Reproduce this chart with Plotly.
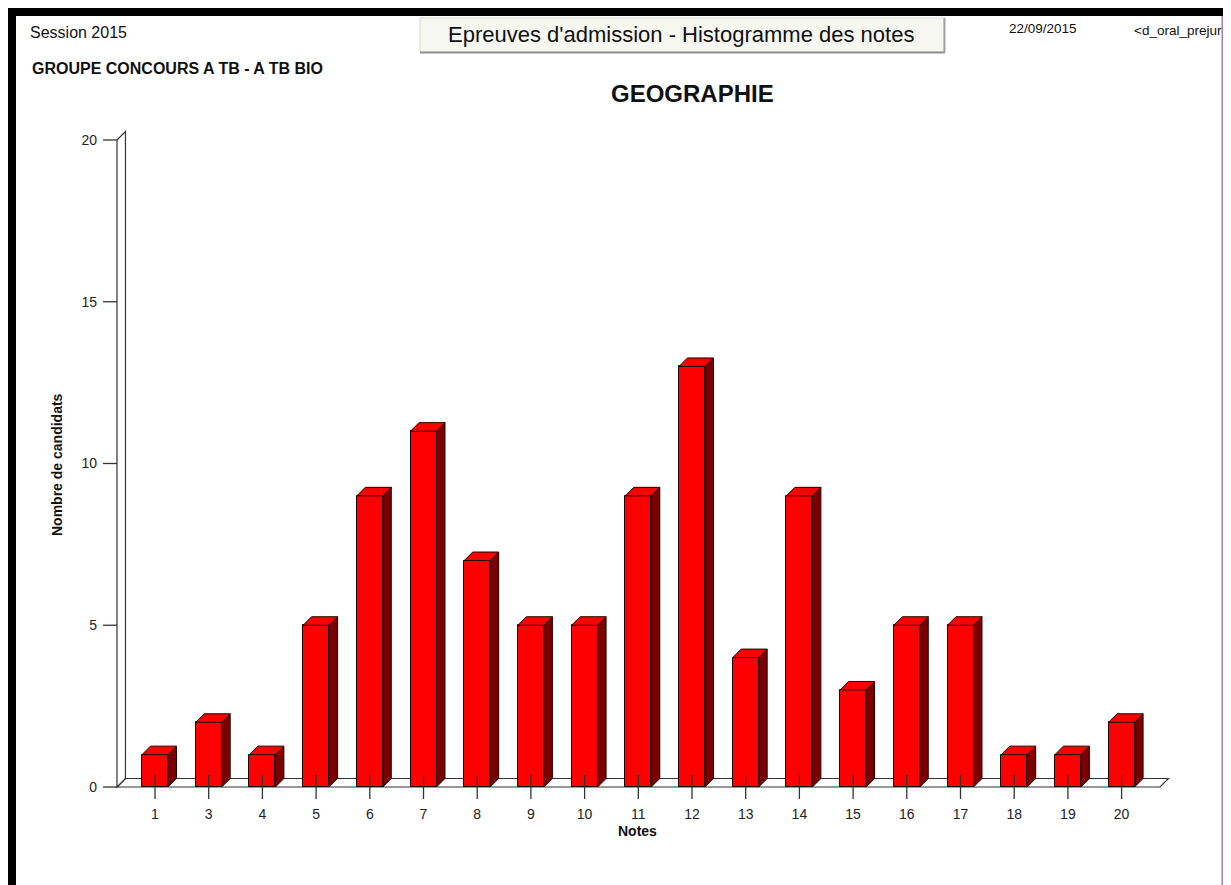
import plotly.graph_objects as go

# ---------------- data ----------------
notes = ["1", "3", "4", "5", "6", "7", "8", "9", "10", "11", "12",
         "13", "14", "15", "16", "17", "18", "19", "20"]
counts = [1, 2, 1, 5, 9, 11, 7, 5, 5, 9, 13, 4, 9, 3, 5, 5, 1, 1, 2]
y_ticks = [0, 5, 10, 15, 20]

title_main = "GEOGRAPHIE"
header_box = "Epreuves d'admission - Histogramme des notes"
session_txt = "Session 2015"
group_txt = "GROUPE CONCOURS A TB - A TB BIO"
date_txt = "22/09/2015"
ref_txt = "<d_oral_prejur"
x_title = "Notes"
y_title = "Nombre de candidats"

# ---------------- geometry / style ----------------
OFF = 8                      # page body margin of the html page
W, H = 1231, 885
# plot area in screen pixels
PL, PR, PT, PB = 100, 1175, 128, 800
L, R = PL - OFF, (W + OFF) - PR
T, B = PT - OFF, (H + OFF) - PB
XR = [(PL - 155) / 53.7, (PR - 155) / 53.7]
YR = [(787 - PB) / 32.35, (787 - PT) / 32.35]
BAR_W = 0.484
DX, DY = 0.158, 0.263          # 3D depth offsets
WALL_X = -0.708
FLOOR_END = 18.715
YTICK_LEN = 0.26
XTICK_HALF = 0.371
FONT = "Liberation Sans, Arial, sans-serif"


def px(x):
    return (x - PL) / (PR - PL)


def py(y):
    return 1 - (y - PT) / (PB - PT)


idx = list(range(len(notes)))

fig = go.Figure()

# front faces
fig.add_trace(go.Bar(
    x=idx, y=counts, width=BAR_W,
    marker=dict(color="#FF0000", line=dict(color="#200000", width=1)),
    hoverinfo="skip", showlegend=False,
))

# side faces and top faces
sx, sy, tx, ty = [], [], [], []
for i, v in zip(idx, counts):
    xl, xr = i - BAR_W / 2, i + BAR_W / 2
    sx += [xr, xr, xr + DX, xr + DX, xr, None]
    sy += [0, v, v + DY, DY, 0, None]
    tx += [xl, xl + DX, xr + DX, xr, xl, None]
    ty += [v, v + DY, v + DY, v, v, None]
fig.add_trace(go.Scatter(x=sx, y=sy, mode="lines", fill="toself",
                         fillcolor="#7A0000", line=dict(color="#200000", width=1),
                         hoverinfo="skip", showlegend=False))
fig.add_trace(go.Scatter(x=tx, y=ty, mode="lines", fill="toself",
                         fillcolor="#FF0000", line=dict(color="#200000", width=1),
                         hoverinfo="skip", showlegend=False))

# x tick marks (crossing the floor line)
kx, ky = [], []
for i in idx:
    kx += [i, i, None]
    ky += [-XTICK_HALF, XTICK_HALF, None]
fig.add_trace(go.Scatter(x=kx, y=ky, mode="lines",
                         line=dict(color="#333333", width=1.3),
                         hoverinfo="skip", showlegend=False))

# y tick marks
gx, gy = [], []
for t in y_ticks:
    gx += [WALL_X - YTICK_LEN, WALL_X, None]
    gy += [t, t, None]
fig.add_trace(go.Scatter(x=gx, y=gy, mode="lines",
                         line=dict(color="#333333", width=1.3),
                         hoverinfo="skip", showlegend=False))

# floor and wall (3D frame)
ymax = y_ticks[-1]
floor_path = (f"M {WALL_X},0 L {FLOOR_END},0 L {FLOOR_END + DX},{DY} "
              f"L {WALL_X + DX},{DY} Z")
wall_path = (f"M {WALL_X},0 L {WALL_X},{ymax} L {WALL_X + DX},{ymax + DY} "
             f"L {WALL_X + DX},{DY} Z")
shapes = [
    dict(type="path", path=floor_path, xref="x", yref="y", layer="below",
         fillcolor="white", line=dict(color="#333333", width=1.2)),
    dict(type="path", path=wall_path, xref="x", yref="y", layer="below",
         fillcolor="white", line=dict(color="#333333", width=1.2)),
]

# page frame
shapes += [
    dict(type="rect", xref="paper", yref="paper", x0=px(7), x1=px(1240),
         y0=py(16), y1=py(7), fillcolor="black", line=dict(width=0)),
    dict(type="rect", xref="paper", yref="paper", x0=px(7), x1=px(16),
         y0=py(900), y1=py(7), fillcolor="black", line=dict(width=0)),
    dict(type="rect", xref="paper", yref="paper", x0=px(1224), x1=px(1240),
         y0=py(900), y1=py(7), fillcolor="black", line=dict(width=0)),
    dict(type="line", xref="paper", yref="paper", x0=px(1222.5), x1=px(1222.5),
         y0=py(900), y1=py(16), line=dict(color="#9C7FC0", width=2)),
    # header box
    dict(type="rect", xref="paper", yref="paper", x0=px(420), x1=px(944),
         y0=py(52), y1=py(18), fillcolor="#F7F7F2",
         line=dict(color="#D8D8D0", width=1)),
    dict(type="line", xref="paper", yref="paper", x0=px(420), x1=px(945),
         y0=py(52.5), y1=py(52.5), line=dict(color="#909090", width=2)),
    dict(type="line", xref="paper", yref="paper", x0=px(944.5), x1=px(944.5),
         y0=py(52.5), y1=py(18), line=dict(color="#A0A0A0", width=2)),
]

ann = [
    dict(text=session_txt, x=px(28), y=py(33), xanchor="left", yanchor="middle",
         font=dict(size=16, color="#111111", family=FONT)),
    dict(text="<b>" + group_txt + "</b>", x=px(30), y=py(68), xanchor="left",
         yanchor="middle", font=dict(size=16, color="#111111", family=FONT)),
    dict(text=header_box, x=px(681), y=py(34), xanchor="center", yanchor="middle",
         font=dict(size=22, color="#111111", family=FONT)),
    dict(text=date_txt, x=px(1007), y=py(28), xanchor="left", yanchor="middle",
         font=dict(size=13.5, color="#111111", family=FONT)),
    dict(text=ref_txt, x=px(1132), y=py(31), xanchor="left", yanchor="middle",
         font=dict(size=13.5, color="#111111", family=FONT)),
    dict(text="<b>" + title_main + "</b>", x=px(692), y=py(94), xanchor="center",
         yanchor="middle", font=dict(size=24, color="#111111", family=FONT)),
    dict(text="<b>" + y_title + "</b>", x=px(57), y=py(465), xanchor="center",
         yanchor="middle", textangle=-90,
         font=dict(size=14, color="#111111", family=FONT)),
    dict(text="<b>" + x_title + "</b>", x=px(637), y=py(831), xanchor="center",
         yanchor="middle", font=dict(size=14, color="#111111", family=FONT)),
]
for a in ann:
    a.update(xref="paper", yref="paper", showarrow=False)

fig.update_layout(
    width=W, height=H,
    margin=dict(l=L, r=R, t=T, b=B, pad=0),
    paper_bgcolor="white", plot_bgcolor="white",
    showlegend=False,
    shapes=shapes, annotations=ann,
    font=dict(family=FONT, size=14, color="#222222"),
    xaxis=dict(range=XR, tickvals=idx, ticktext=notes, ticks="",
               showgrid=False, zeroline=False, showline=False,
               ticklabelstandoff=4,
               tickfont=dict(size=14, color="#222222", family=FONT),
               fixedrange=True),
    yaxis=dict(range=YR, tickvals=y_ticks, ticks="", showgrid=False,
               zeroline=False, showline=False,
               ticklabelstandoff=2,
               tickfont=dict(size=14, color="#222222", family=FONT),
               fixedrange=True),
    bargap=0,
)

fig.write_html("out.html")
